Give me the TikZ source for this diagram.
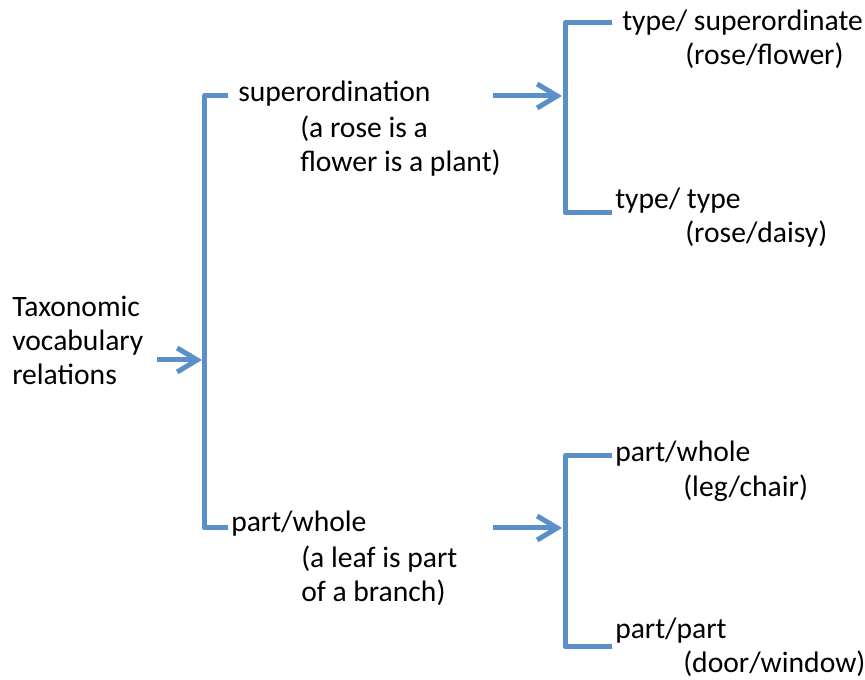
\documentclass[tikz,border=0pt]{standalone}
\usepackage{fontspec}
\setmainfont{Carlito}
\usepackage{tikz}
\usetikzlibrary{arrows.meta}
\usepackage{xcolor}
\definecolor{relblue}{RGB}{91,143,201}

\begin{document}
\begin{tikzpicture}[x=0.75pt, y=-0.75pt,
  lbl/.style={anchor=base west, inner sep=0pt, align=left,
    font=\fontsize{22.2}{25.5}\selectfont},
  bline/.style={draw=relblue, line width=3.75pt, line join=round,
    preaction={draw=black!25, opacity=0.45,
      transform canvas={shift={(0.9pt,-1.3pt)}}}},
  brace/.style={bline},
  feed/.style={bline, -{Straight Barb[length=15pt,width=18pt]}}]

  \useasboundingbox (0,0) rectangle (865,680);

  % labels (multi-line ones sit on their last baseline)
  \node[lbl] (tax) at (12,385) {Taxonomic\\vocabulary\\relations};
  \node[lbl] (super) at (238,102) {superordination};
  \node[lbl] (superex) at (300,172) {(a rose is a\\flower is a plant)};
  \node[lbl] (whole) at (231,532) {part/whole};
  \node[lbl] (wholeex) at (301,602) {(a leaf is part\\of a branch)};
  \node[lbl] (tsup) at (622,31) {type/ superordinate};
  \node[lbl] (tsupex) at (685,65) {(rose/flower)};
  \node[lbl] (ttype) at (615,209) {type/ type};
  \node[lbl] (ttypeex) at (685,243) {(rose/daisy)};
  \node[lbl] (pwhole) at (615,462) {part/whole};
  \node[lbl] (pwholeex) at (683,497) {(leg/chair)};
  \node[lbl] (ppart) at (615,639) {part/part};
  \node[lbl] (ppartex) at (683,673) {(door/window)};

  % bracket ends and arrow ends
  \coordinate (rt) at (228,96);
  \coordinate (rb) at (228,528);
  \coordinate (st) at (612,23);
  \coordinate (sb) at (612,213);
  \coordinate (pt) at (612,456);
  \coordinate (pb) at (612,647);
  \coordinate (rootin) at (157,360);
  \coordinate (rootjoin) at (202,360);
  \coordinate (supout) at (493,96);
  \coordinate (supjoin) at (562,96);
  \coordinate (wholeout) at (493,528);
  \coordinate (wholejoin) at (562,528);

  \draw[brace] (rt) -- ++(-24,0) |- (rb);
  \draw[brace] (st) -- ++(-47,0) |- (sb);
  \draw[brace] (pt) -- ++(-47,0) |- (pb);

  \draw[feed] (rootin) -- (rootjoin);
  \draw[feed] (supout) -- (supjoin);
  \draw[feed] (wholeout) -- (wholejoin);
\end{tikzpicture}
\end{document}
